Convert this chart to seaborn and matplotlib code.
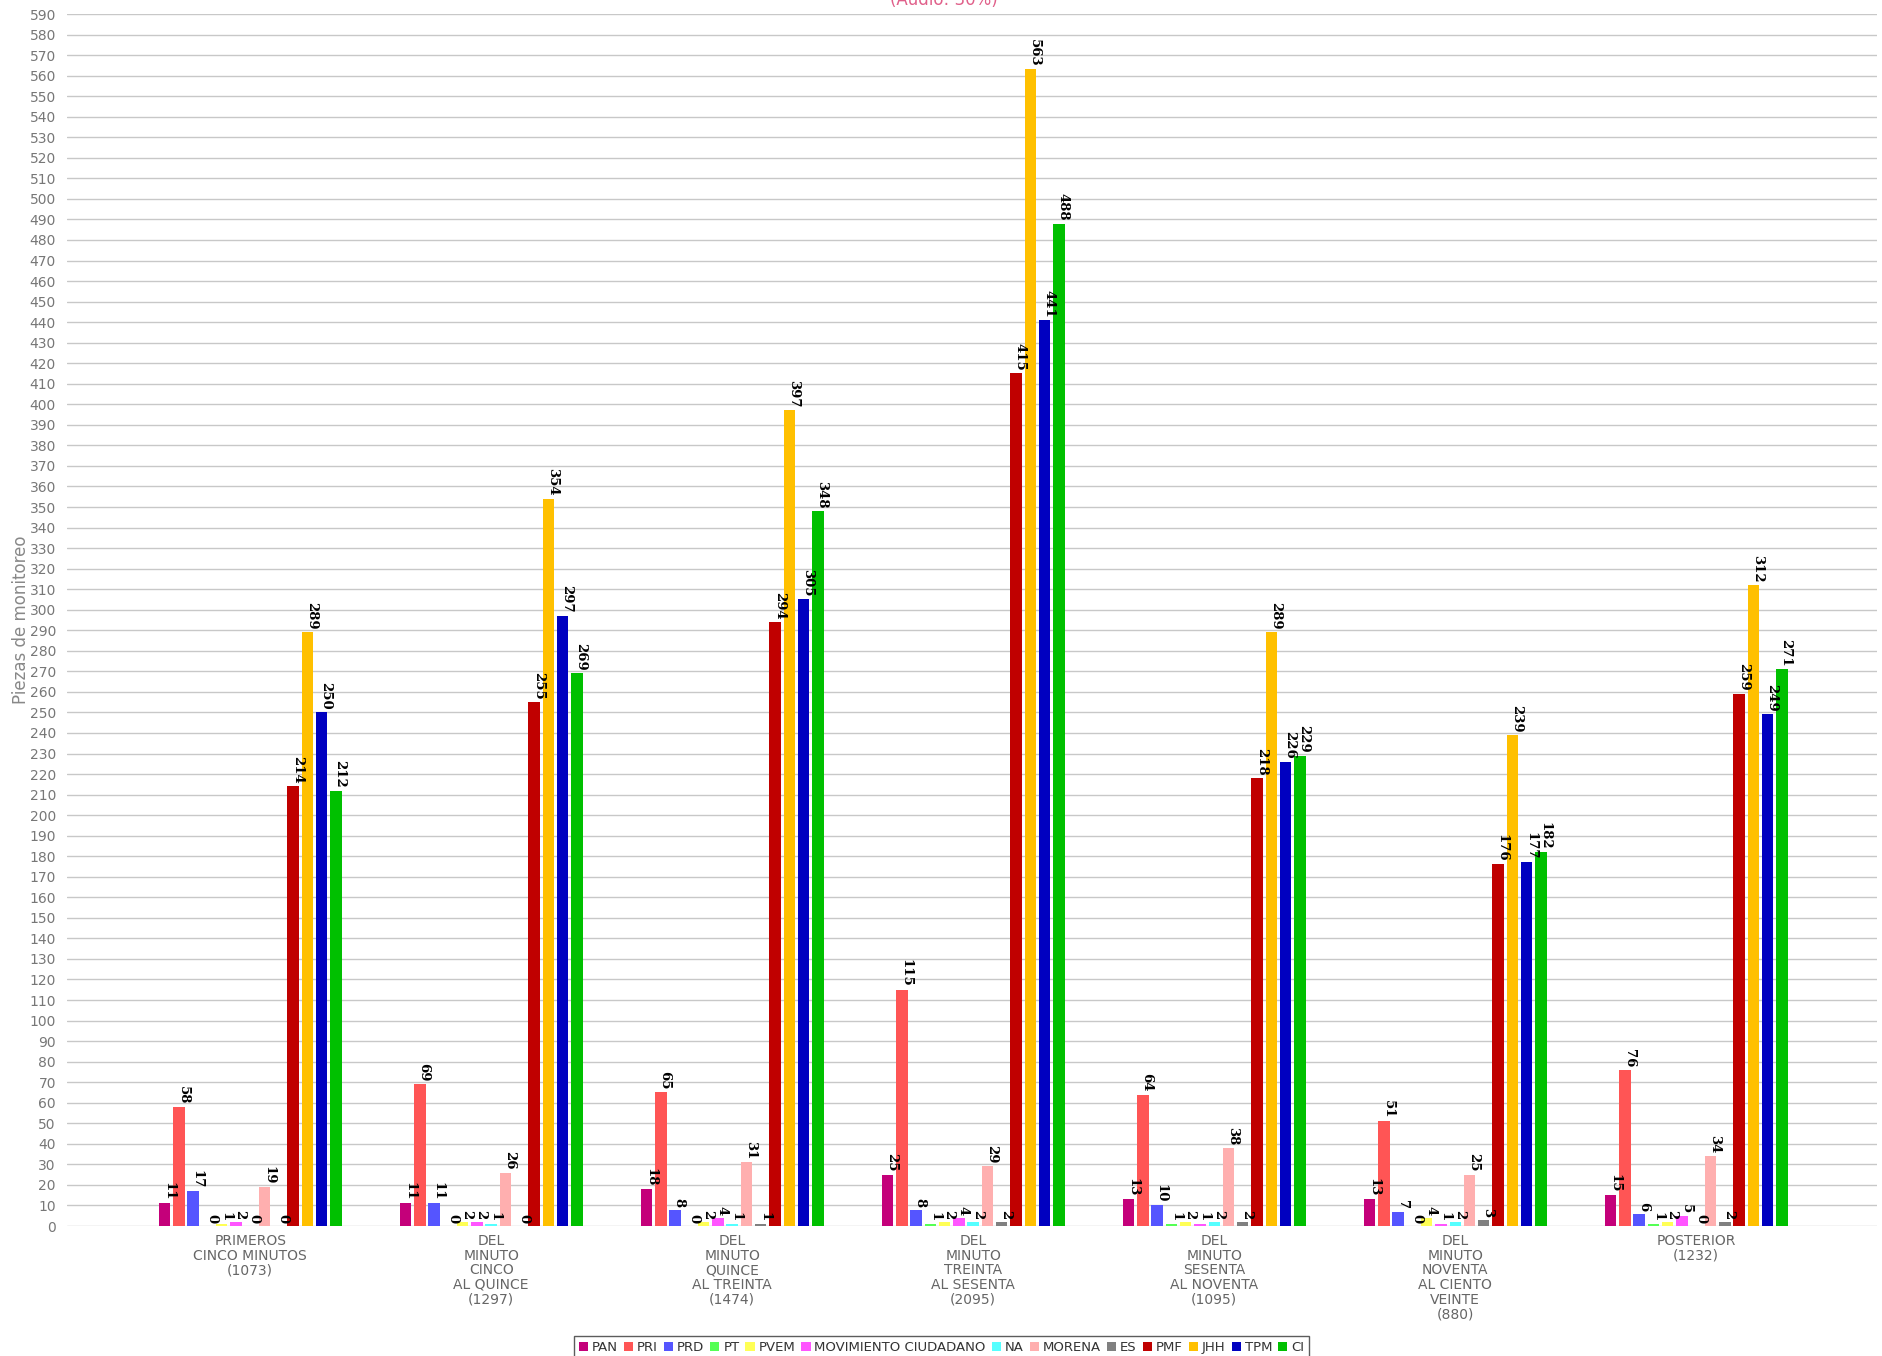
import matplotlib
matplotlib.use("Agg")
import matplotlib.pyplot as plt
import seaborn as sns
import pandas as pd

# Time windows (x categories) with total monitoring pieces in each window
periodos = [
    "PRIMEROS\nCINCO MINUTOS\n(1073)",
    "DEL\nMINUTO\nCINCO\nAL QUINCE\n(1297)",
    "DEL\nMINUTO\nQUINCE\nAL TREINTA\n(1474)",
    "DEL\nMINUTO\nTREINTA\nAL SESENTA\n(2095)",
    "DEL\nMINUTO\nSESENTA\nAL NOVENTA\n(1095)",
    "DEL\nMINUTO\nNOVENTA\nAL CIENTO\nVEINTE\n(880)",
    "POSTERIOR\n(1232)",
]

partidos = ["PAN", "PRI", "PRD", "PT", "PVEM", "MOVIMIENTO CIUDADANO", "NA",
            "MORENA", "ES", "PMF", "JHH", "TPM", "CI"]

# Pieces per party, one list per time window (same order as `partidos`)
primeros_cinco = [11, 58, 17, 0, 1, 2, 0, 19, 0, 214, 289, 250, 212]
cinco_quince = [11, 69, 11, 0, 2, 2, 1, 26, 0, 255, 354, 297, 269]
quince_treinta = [18, 65, 8, 0, 2, 4, 1, 31, 1, 294, 397, 305, 348]
treinta_sesenta = [25, 115, 8, 1, 2, 4, 2, 29, 2, 415, 563, 441, 488]
sesenta_noventa = [13, 64, 10, 1, 2, 1, 2, 38, 2, 218, 289, 226, 229]
noventa_ciento_veinte = [13, 51, 7, 0, 4, 1, 2, 25, 3, 176, 239, 177, 182]
posterior = [15, 76, 6, 1, 2, 5, 0, 34, 2, 259, 312, 249, 271]

colores = ["#c4007a", "#ff5555", "#5555ff", "#55ff55", "#ffff55", "#ff55ff",
           "#55ffff", "#ffafaf", "#808080", "#c00000", "#ffc000", "#0000c0",
           "#00c000"]

series = [primeros_cinco, cinco_quince, quince_treinta, treinta_sesenta,
          sesenta_noventa, noventa_ciento_veinte, posterior]

rows = []
for periodo, valores in zip(periodos, series):
    for partido, v in zip(partidos, valores):
        rows.append({"periodo": periodo, "partido": partido, "piezas": v})
df = pd.DataFrame(rows)

sns.set_style("white")
plt.rcParams["font.family"] = ["DejaVu Sans"]

fig = plt.figure(figsize=(18.83, 13.56), dpi=100)
ax = fig.add_axes([67 / 1883, 130 / 1356, (1877 - 67) / 1883, (1342 - 130) / 1356])

sns.barplot(data=df, x="periodo", y="piezas", hue="partido",
            order=periodos, hue_order=partidos,
            palette=dict(zip(partidos, colores)),
            width=0.77, gap=0.2, errorbar=None, saturation=1,
            edgecolor="none", linewidth=0, ax=ax)

# Value labels above each bar, rotated to read downward
for container in ax.containers:
    for bar in container:
        h = bar.get_height()
        ax.annotate(f"{int(round(h))}",
                    (bar.get_x() + bar.get_width() / 2, h),
                    xytext=(3, 2), textcoords="offset points",
                    ha="center", va="bottom", rotation=-90,
                    fontsize=9.5, fontweight="bold", family="DejaVu Serif",
                    color="black")

ax.set_ylim(0, 590)
ax.set_xlim(-0.76, 6.75)
ax.set_yticks(range(0, 591, 10))
ax.yaxis.grid(True, color="#c8c8c8", linewidth=1)
ax.xaxis.grid(False)
ax.set_axisbelow(True)
for s in ax.spines.values():
    s.set_visible(False)

ax.tick_params(axis="y", length=0, pad=8, labelsize=10, labelcolor="#777777")
ax.tick_params(axis="x", length=3, width=0.8, color="#aaaaaa", pad=3,
               labelsize=10, labelcolor="#666666")
ax.set_xlabel("")
ax.set_ylabel("Piezas de monitoreo", fontsize=12, color="#888888")
ax.yaxis.set_label_coords(-0.0205, 0.5)
for lbl in ax.get_xticklabels():
    lbl.set_linespacing(1.05)

handles, labels = ax.get_legend_handles_labels()
ax.get_legend().remove()
leg = fig.legend(handles, labels, loc="lower center", bbox_to_anchor=(0.5, -0.002),
                 ncol=13, fontsize=9.5, frameon=True, fancybox=False,
                 edgecolor="#333333", handlelength=0.7, handleheight=0.7,
                 handletextpad=0.3, columnspacing=0.45, borderpad=0.35,
                 borderaxespad=0)
leg.get_frame().set_linewidth(1)
for t in leg.get_texts():
    t.set_color("#333333")

# Chart subtitle at the very top edge
fig.text(0.501, 1.0, "(Audio: 30%)", ha="center", va="center",
         fontsize=12, color="#e0608a")

fig.savefig("out.png", dpi=100)
